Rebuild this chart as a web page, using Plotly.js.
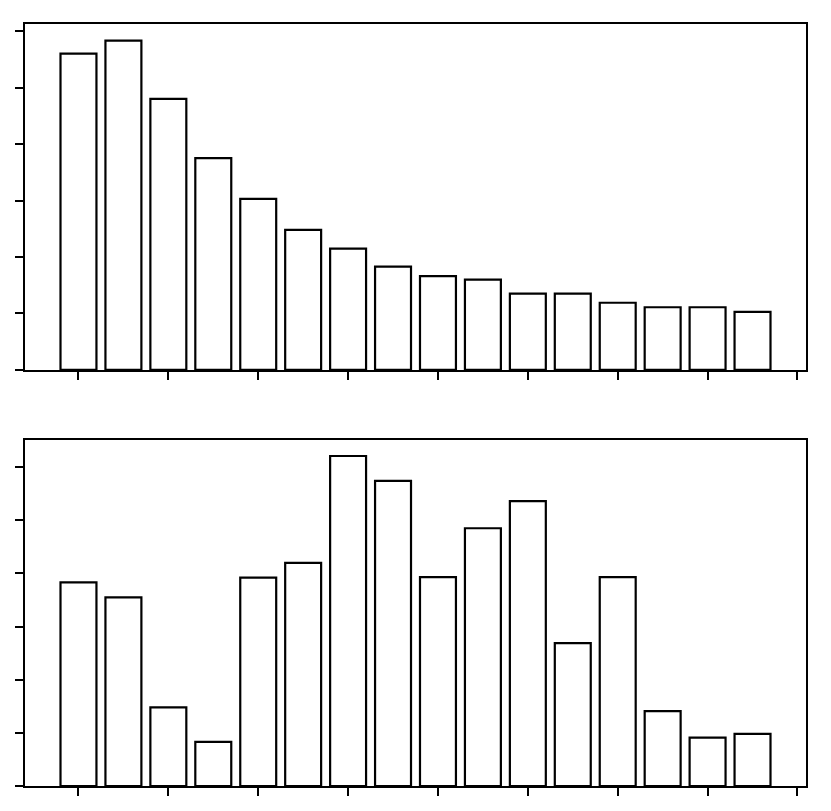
<!DOCTYPE html>
<html>
<head>
<meta charset="utf-8">
<script src="https://cdn.plot.ly/plotly-3.0.1.min.js"></script>
<style>
  body { margin: 0; background: #fff; }
  #chart { width: 831px; height: 811px; }
</style>
</head>
<body>
<div id="chart"></div>
<script>
// bar positions, 16 bars
var positions = [0, 1, 2, 3, 4, 5, 6, 7, 8, 9, 10, 11, 12, 13, 14, 15];

// top panel: decreasing values
var topValues = [5.60, 5.83, 4.80, 3.75, 3.03, 2.48, 2.15, 1.83, 1.66, 1.60, 1.35, 1.35, 1.19, 1.11, 1.11, 1.03];

// bottom panel
var bottomValues = [3.83, 3.55, 1.48, 0.83, 3.92, 4.20, 6.21, 5.74, 3.93, 4.85, 5.36, 2.69, 3.93, 1.41, 0.91, 0.98];

var xTicks = [0, 2, 4, 6, 8, 10, 12, 14, 16];
var yTicks = [0, 1, 2, 3, 4, 5, 6];

function barTrace(y, xa, ya) {
    return {
        type: 'bar',
        x: positions,
        y: y,
        width: 0.8,
        xaxis: xa,
        yaxis: ya,
        marker: {color: '#ffffff', line: {color: '#000000', width: 2.2}},
        hoverinfo: 'skip'
    };
}

var data = [
    barTrace(topValues, 'x', 'y'),
    barTrace(bottomValues, 'x2', 'y2')
];

function xAxis(anchor) {
    return {
        anchor: anchor,
        range: [-1.19, 16.19],
        showgrid: false,
        zeroline: false,
        showline: true,
        linecolor: '#000',
        linewidth: 2,
        mirror: true,
        ticks: 'outside',
        ticklen: 8,
        tickwidth: 2,
        tickcolor: '#000',
        tickmode: 'array',
        tickvals: xTicks,
        showticklabels: false,
        fixedrange: true
    };
}

function yAxis(anchor, domain, top) {
    return {
        anchor: anchor,
        domain: domain,
        range: [0, top],
        showgrid: false,
        zeroline: false,
        showline: true,
        linecolor: '#000',
        linewidth: 2,
        mirror: true,
        ticks: 'outside',
        ticklen: 8,
        tickwidth: 2,
        tickcolor: '#000',
        tickmode: 'array',
        tickvals: yTicks,
        showticklabels: false,
        fixedrange: true
    };
}

var layout = {
    width: 831,
    height: 811,
    margin: {l: 25, r: 25, t: 24, b: 25},
    paper_bgcolor: '#fff',
    plot_bgcolor: '#fff',
    showlegend: false,
    bargap: 0.2,
    xaxis: xAxis('y'),
    yaxis: yAxis('x', [0.546, 1], 6.126),
    xaxis2: xAxis('y2'),
    yaxis2: yAxis('x2', [0, 0.454], 6.51)
};

Plotly.newPlot('chart', data, layout, {displayModeBar: false, staticPlot: true});
</script>
</body>
</html>
